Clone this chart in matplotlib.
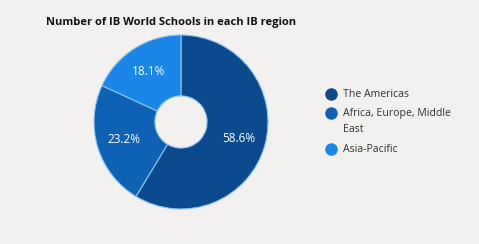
import matplotlib.pyplot as plt

# -----------------------
regions = ['The Americas', 'Africa, Europe, Middle\nEast', 'Asia-Pacific']
shares = [58.6, 23.2, 18.1]
colors = ['#0b4a8e', '#0e62b6', '#1a86e8']
title = 'Number of IB World Schools in each IB region'
# -----------------------

plt.rcParams['font.family'] = ['Open Sans', 'DejaVu Sans']
bg = '#f2f1ef'

W, H = 479, 244
fig = plt.figure(figsize=(W / 100, H / 100), dpi=100, facecolor=bg)

# pie centre / radius in pixels
cx, cy, r = 181, 122, 87
ax = fig.add_axes([(cx - r) / W, (H - cy - r) / H, 2 * r / W, 2 * r / H])
ax.set_facecolor(bg)

wedges, texts = ax.pie(
    shares, colors=colors, startangle=90, counterclock=False,
    labels=['%.1f%%' % s for s in shares], labeldistance=0.69, radius=1,
    wedgeprops=dict(width=0.7, edgecolor='#8cc4f4', linewidth=0.8),
    textprops=dict(color='white', fontsize=8.5))
for t in texts:
    t.set_ha('center')
    t.set_va('center')
ax.set_xlim(-1, 1)
ax.set_ylim(-1, 1)
ax.set_aspect('equal')
ax.axis('off')

fig.text(171 / W, 1 - 22 / H, title, ha='center', va='center',
         fontsize=8, fontweight='bold', color='#111111')

# legend
ys = [94, 113, 149]
for lab, col, y in zip(regions, colors, ys):
    fig.add_artist(plt.Line2D([331 / W], [1 - y / H], marker='o', markersize=8,
                              color=col, linestyle='none'))
    fig.text(343 / W, 1 - (y - 5) / H, lab, ha='left', va='top', fontsize=7.6,
             color='#333333', linespacing=1.6)

fig.savefig('out.png', dpi=100, facecolor=bg)
